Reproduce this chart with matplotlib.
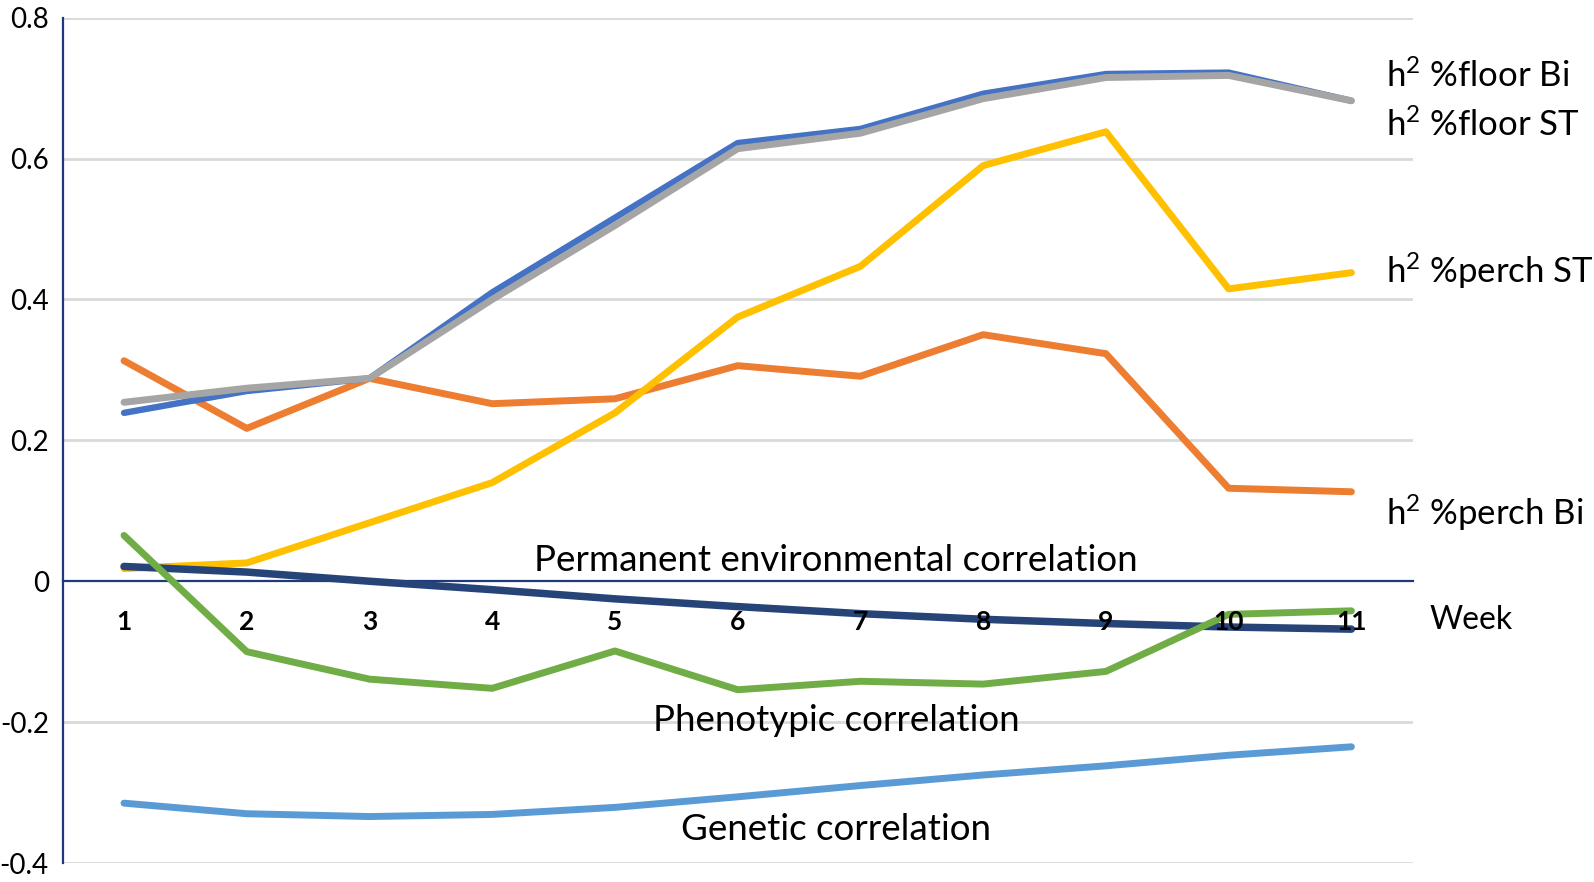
import numpy as np
import matplotlib
matplotlib.use("Agg")
import matplotlib.pyplot as plt

plt.rcParams['font.family'] = ['Lato', 'DejaVu Sans']
plt.rcParams['mathtext.fontset'] = 'custom'
plt.rcParams['mathtext.rm'] = 'Lato'
plt.rcParams['mathtext.it'] = 'Lato'

weeks = np.arange(1, 12)

floor_bi = [0.239, 0.270, 0.288, 0.410, 0.516, 0.622, 0.642, 0.692, 0.720, 0.722, 0.682]
floor_st = [0.254, 0.274, 0.288, 0.400, 0.505, 0.614, 0.636, 0.685, 0.715, 0.718, 0.682]
perch_st = [0.018, 0.026, 0.083, 0.140, 0.239, 0.375, 0.447, 0.590, 0.638, 0.415, 0.438]
perch_bi = [0.313, 0.217, 0.288, 0.252, 0.259, 0.306, 0.291, 0.350, 0.323, 0.132, 0.127]
phenotypic = [0.065, -0.100, -0.139, -0.152, -0.099, -0.154, -0.142, -0.146, -0.128, -0.047, -0.042]
perm_env = [0.021, 0.013, 0.000, -0.012, -0.025, -0.036, -0.046, -0.054, -0.060, -0.065, -0.068]
genetic = [-0.315, -0.330, -0.334, -0.331, -0.321, -0.306, -0.290, -0.275, -0.262, -0.247, -0.235]

yticks = [-0.4, -0.2, 0, 0.2, 0.4, 0.6, 0.8]
ytick_labels = ['-0.4', '-0.2', '0', '0.2', '0.4', '0.6', '0.8']

fig = plt.figure(figsize=(15.94, 8.82), dpi=100)
ax = fig.add_axes([0.0393, 0.0215, 0.847, 0.9585])

navy = '#1F3A7A'
lw = 5.0
style = dict(solid_capstyle='round', solid_joinstyle='round')

# axis line crossing at zero (set before ticks, it resets them)
for side in ['top', 'right']:
    ax.spines[side].set_visible(False)
ax.spines['bottom'].set_position(('data', 0))
ax.spines['bottom'].set_color(navy)
ax.spines['bottom'].set_linewidth(1.6)
ax.spines['bottom'].set_zorder(1)
ax.spines['left'].set_color(navy)
ax.spines['left'].set_linewidth(1.6)

ax.plot(weeks, genetic, color='#5B9BD5', lw=lw, **style)
ax.plot(weeks, perch_bi, color='#ED7D31', lw=lw, **style)
ax.plot(weeks, perch_st, color='#FFC000', lw=lw, **style)
ax.plot(weeks, floor_bi, color='#4472C4', lw=4.6, **style)
ax.plot(weeks, floor_st, color='#A5A5A5', lw=lw, **style)
ax.plot(weeks, perm_env, color='#264478', lw=5.4, **style)
ax.plot(weeks, phenotypic, color='#70AD47', lw=lw, **style)

ax.set_xlim(0.5, 11.5)
ax.set_ylim(-0.4, 0.8)
ax.set_yticks(yticks)
ax.set_yticklabels(ytick_labels, fontsize=20)
ax.set_xticks(weeks)
ax.set_xticklabels([str(w) for w in weeks], fontsize=19, fontweight='bold')
ax.tick_params(axis='both', length=0)
ax.tick_params(axis='y', pad=10)
ax.tick_params(axis='x', pad=21)
ax.xaxis.set_zorder(3)

for y in yticks:
    if y != 0:
        ax.axhline(y, color='#D9D9D9', lw=2, zorder=0)

ax.text(11.64, -0.055, 'Week', fontsize=23, ha='left', va='center')

label_x = 11.28
ax.text(label_x, 0.717, 'h$^2$ %floor Bi', fontsize=25, ha='left', va='center')
ax.text(label_x, 0.647, 'h$^2$ %floor ST', fontsize=25, ha='left', va='center')
ax.text(label_x, 0.441, 'h$^2$ %perch ST', fontsize=25, ha='left', va='center')
ax.text(label_x, 0.097, 'h$^2$ %perch Bi', fontsize=25, ha='left', va='center')

ax.text(6.8, 0.029, 'Permanent environmental correlation', fontsize=26.5, ha='center', va='center')
ax.text(6.8, -0.197, 'Phenotypic correlation', fontsize=26.5, ha='center', va='center')
ax.text(6.8, -0.353, 'Genetic correlation', fontsize=26.5, ha='center', va='center')

fig.savefig('out.png', dpi=100)
